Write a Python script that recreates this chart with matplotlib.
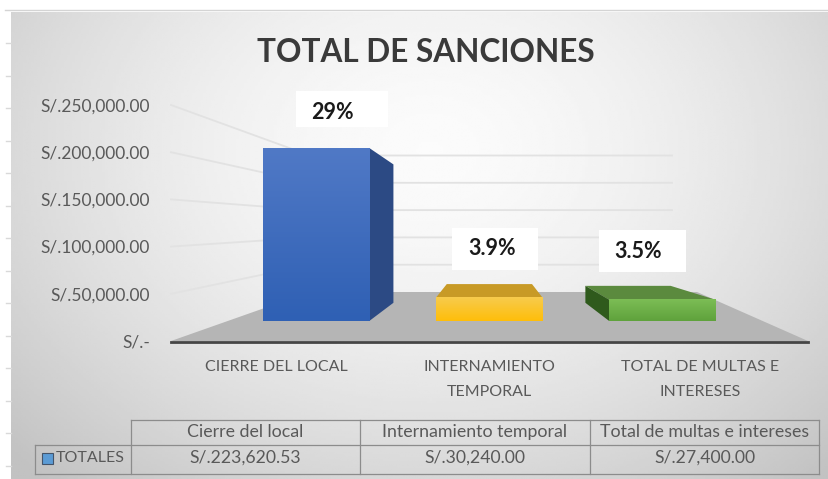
import matplotlib
matplotlib.use('Agg')
import matplotlib.pyplot as plt
import numpy as np
from matplotlib.colors import LinearSegmentedColormap
from matplotlib.patches import Polygon, Rectangle

plt.rcParams['font.family'] = ['Lato', 'DejaVu Sans']

# data
categories = ['CIERRE DEL LOCAL', 'INTERNAMIENTO\nTEMPORAL', 'TOTAL DE MULTAS E\nINTERESES']
table_headers = ['Cierre del local', 'Internamiento temporal', 'Total de multas e intereses']
series_name = 'TOTALES'
values = [223620.53, 30240.00, 27400.00]
value_labels = ['S/.223,620.53', 'S/.30,240.00', 'S/.27,400.00']
percents = ['29%', '3.9%', '3.5%']
y_ticks = [0, 50000, 100000, 150000, 200000, 250000]
y_tick_labels = ['S/.-', 'S/.50,000.00', 'S/.100,000.00', 'S/.150,000.00', 'S/.200,000.00', 'S/.250,000.00']

W, H = 829, 479
fig = plt.figure(figsize=(W / 100, H / 100), dpi=100)
fig.patch.set_facecolor('white')

def axes_px(left, top, right, bottom, **kw):
    # axes placed with pixel edges of the picture
    return fig.add_axes([left / W, 1 - bottom / H, (right - left) / W, (bottom - top) / H], **kw)

# pixel canvas for everything around the bars
bg = axes_px(0, 0, W, H)
bg.set_xlim(0, W)
bg.set_ylim(H, 0)
bg.axis('off')

# chart area background
xx, yy = np.meshgrid(np.linspace(11, 829, 300), np.linspace(12, 479, 200))
dist = np.sqrt(((xx - 430) / 520) ** 2 + ((yy - 150) / 400) ** 2)
shade = np.clip(0.985 - 0.19 * dist ** 1.6, 0.76, 1)
bg.imshow(shade, extent=[11, 829, 479, 12], cmap='gray', vmin=0, vmax=1, aspect='auto', zorder=0)
bg.set_xlim(0, W)
bg.set_ylim(H, 0)
bg.plot([5, 829], [10, 10], color='#d4d4d4', lw=1, zorder=1)
for ty in np.arange(43, 479, 32.5):
    bg.plot([6, 11], [ty, ty], color='#d9d9d9', lw=1, zorder=1)

# floor and walls
corner_l, corner_r, wall_base = 310, 697, 292
axis_y, axis_l, axis_r = 341, 171, 808
bg.add_patch(Polygon([(axis_l, axis_y), (corner_l, wall_base), (corner_r, wall_base), (axis_r, axis_y)],
                     fc='#b5b5b5', ec='none', zorder=2))
for v in y_ticks[1:]:
    ly = axis_y - v * 236 / 250000
    wy = wall_base - v * 136.5 / 250000
    bg.plot([axis_l, corner_l, 672], [ly, wy, wy], color='#e2e2e2', lw=1.3, zorder=2)
bg.plot([axis_l, axis_r], [axis_y + 1, axis_y + 1], color='#454545', lw=2, zorder=3)

# tick labels on their own value scale
ax_ticks = axes_px(axis_l, axis_y - 236, axis_r, axis_y, facecolor='none')
ax_ticks.set_ylim(0, 250000)
ax_ticks.set_xticks([])
ax_ticks.set_yticks(y_ticks)
ax_ticks.set_yticklabels(y_tick_labels, fontsize=12.5, color='#595959')
ax_ticks.tick_params(axis='y', length=0, pad=15)
for s in ax_ticks.spines.values():
    s.set_visible(False)

# front faces of the bars
ax = axes_px(axis_l, 321 - 250000 * 173 / 223620.53, axis_r, 321, facecolor='none')
ax.set_ylim(0, 250000)
ax.set_xlim((axis_l - 316) / 173.25, (axis_r - 316) / 173.25)
ax.axis('off')

front_colors = [('#5079c6', '#2f60b4'), ('#f7cb4d', '#ffbe0a'), ('#7cbd55', '#5fa23c')]
side_colors = ['#2c4a84', '#b58a20', '#2f5a1c']
top_colors = ['#3d5c96', '#c89a26', '#5b8a3e']
vx, vy, depth = 490, 230, 0.8

def to_px(x, y):
    p = ax.transData.transform((x, y))
    return p[0], H - p[1]

def back(p):
    return vx + (p[0] - vx) * depth, vy + (p[1] - vy) * depth

bars = ax.bar(range(3), values, width=0.615, color='none', edgecolor='none')
for i, b in enumerate(bars):
    x0, x1 = b.get_x(), b.get_x() + b.get_width()
    grad = LinearSegmentedColormap.from_list('g', front_colors[i])
    img = ax.imshow(np.linspace(0, 1, 64)[:, None], extent=[x0, x1, 0, values[i]], cmap=grad,
                    aspect='auto', origin='upper', zorder=3)
    ax.set_xlim((axis_l - 316) / 173.25, (axis_r - 316) / 173.25)
    ax.set_ylim(0, 250000)

    tl, tr = to_px(x0, values[i]), to_px(x1, values[i])
    bl, br = to_px(x0, 0), to_px(x1, 0)
    # depth faces, which side shows depends on the vanishing point
    if tl[1] > vy:
        bg.add_patch(Polygon([tl, tr, back(tr), back(tl)], fc=top_colors[i], ec='none', zorder=4))
    if tr[0] < vx:
        bg.add_patch(Polygon([tr, br, back(br), back(tr)], fc=side_colors[i], ec='none', zorder=4))
    if tl[0] > vx:
        bg.add_patch(Polygon([tl, bl, back(bl), back(tl)], fc=side_colors[i], ec='none', zorder=4))

# percentage labels in white boxes
label_boxes = [(296, 91, 388, 127), (452, 228, 538, 270), (599, 230, 686, 272)]
label_pos = [(332, 112), (492, 248), (638, 251)]
for txt, box, pos in zip(percents, label_boxes, label_pos):
    bg.add_patch(Rectangle((box[0], box[1]), box[2] - box[0], box[3] - box[1], fc='white', ec='none', zorder=5))
    bg.text(pos[0], pos[1], txt, fontsize=15.5, fontweight='bold', color='#1a1a1a', ha='center', va='center', zorder=6)

bg.text(426, 52, 'TOTAL DE SANCIONES', fontsize=22.7, fontweight='bold', color='#3a3a3a',
        ha='center', va='center', zorder=6)

# category labels
for lx, cat in zip([276, 489, 700], categories):
    bg.text(lx, 360, cat, fontsize=11.5, color='#595959', ha='center', va='top', linespacing=2.0, zorder=6)

# data table
col_x = [131, 360, 590, 819]
grid = '#8c8c8c'
bg.plot([131, 819], [420, 420], color=grid, lw=0.9, zorder=6)
bg.plot([35, 819], [444.5, 444.5], color=grid, lw=0.9, zorder=6)
bg.plot([35, 819], [474, 474], color=grid, lw=0.9, zorder=6)
bg.plot([35, 35], [444.5, 474], color=grid, lw=0.9, zorder=6)
for cx in col_x:
    bg.plot([cx, cx], [420, 474], color=grid, lw=0.9, zorder=6)
for i in range(3):
    mid = (col_x[i] + col_x[i + 1]) / 2
    bg.text(mid, 432, table_headers[i], fontsize=12.8, color='#595959', ha='center', va='center', zorder=6)
    bg.text(mid, 458, value_labels[i], fontsize=12.7, color='#595959', ha='center', va='center', zorder=6)
bg.add_patch(Rectangle((42, 453), 11, 11, fc='#5b9bd5', ec='#44546a', lw=0.8, zorder=6))
bg.text(56, 457.5, series_name, fontsize=11.5, color='#595959', ha='left', va='center', zorder=6)

fig.savefig('out.png', dpi=100)
